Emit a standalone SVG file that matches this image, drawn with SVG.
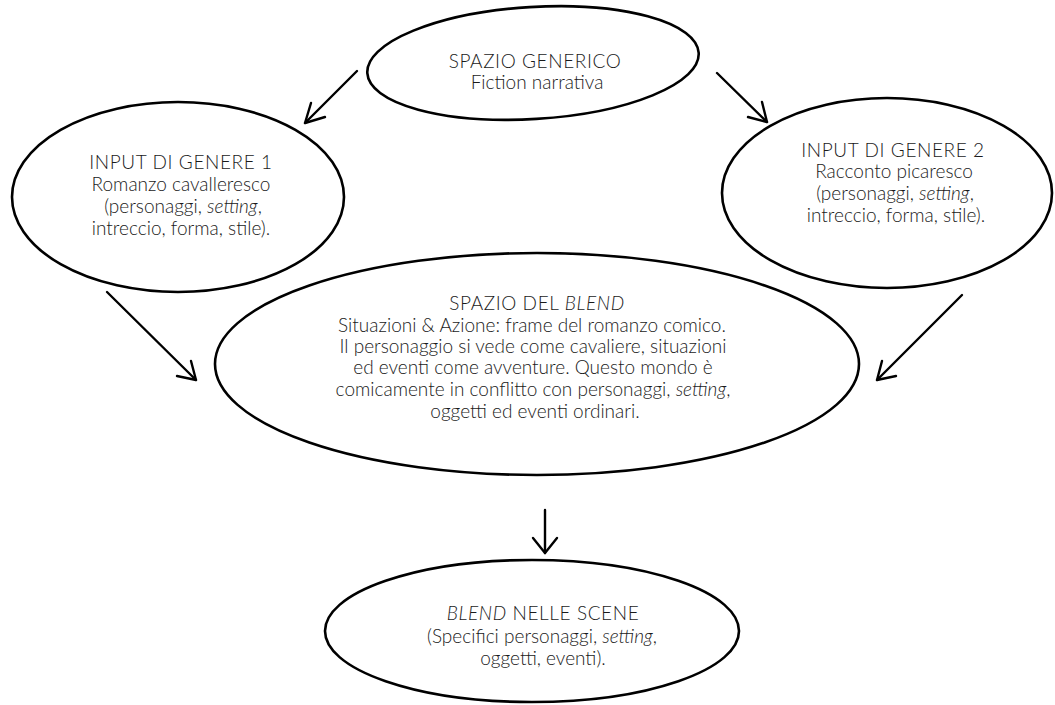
<svg xmlns="http://www.w3.org/2000/svg" width="1055" height="705" viewBox="0 0 1055 705">
<defs>
<style>
.n{fill:#fff;stroke:#000;stroke-width:2.6}
.t{font-family:Lato,"Open Sans","Liberation Sans",sans-serif;font-weight:300;font-size:19px;fill:#1a1a1a;text-anchor:middle}
.u{letter-spacing:0.6px}
.c line,.c polyline{stroke:#000;stroke-width:2.4;fill:none;stroke-linecap:round;stroke-linejoin:round}
</style>
</defs>
<rect width="1055" height="705" fill="#fff"/>
<g id="generico">
<ellipse class="n" cx="533" cy="63" rx="166" ry="56" transform="rotate(-3.5 533 63)"/>
<text class="t u" x="535" y="68">SPAZIO GENERICO</text>
<text class="t" x="537" y="89">Fiction narrativa</text>
</g>
<g id="input1">
<ellipse class="n" cx="178" cy="197" rx="166" ry="95"/>
<text class="t u" x="181" y="169">INPUT DI GENERE 1</text>
<text class="t" x="181" y="191">Romanzo cavalleresco</text>
<text class="t" x="183" y="213">(personaggi, <tspan font-style="italic">setting</tspan>,</text>
<text class="t" x="181" y="235">intreccio, forma, stile).</text>
</g>
<g id="input2">
<ellipse class="n" cx="887" cy="193" rx="165" ry="95"/>
<text class="t u" x="893" y="157">INPUT DI GENERE 2</text>
<text class="t" x="894" y="178">Racconto picaresco</text>
<text class="t" x="895" y="200">(personaggi, <tspan font-style="italic">setting</tspan>,</text>
<text class="t" x="896" y="222">intreccio, forma, stile).</text>
</g>
<g id="blend">
<ellipse class="n" cx="537" cy="364" rx="322" ry="111"/>
<text class="t" x="537" y="310"><tspan class="u">SPAZIO DEL </tspan><tspan class="u" font-style="italic">BLEND</tspan></text>
<text class="t" x="532" y="332">Situazioni &amp; Azione: frame del romanzo comico.</text>
<text class="t" x="533" y="353">Il personaggio si vede come cavaliere, situazioni</text>
<text class="t" x="533" y="374">ed eventi come avventure. Questo mondo è</text>
<text class="t" x="533" y="396">comicamente in conflitto con personaggi, <tspan font-style="italic">setting</tspan>,</text>
<text class="t" x="535" y="418">oggetti ed eventi ordinari.</text>
</g>
<g id="scene">
<ellipse class="n" cx="532" cy="631" rx="207" ry="71"/>
<text class="t" x="543" y="620"><tspan class="u" font-style="italic">BLEND</tspan><tspan class="u"> NELLE SCENE</tspan></text>
<text class="t" x="542" y="643">(Specifici personaggi, <tspan font-style="italic">setting</tspan>,</text>
<text class="t" x="543" y="665">oggetti, eventi).</text>
</g>
<g id="connectors" class="c">
<line x1="357" y1="71" x2="305" y2="123"/>
<polyline points="311,103 305,123 325,117"/>
<line x1="717" y1="73" x2="767" y2="122"/>
<polyline points="748,117 767,122 762,102"/>
<line x1="107" y1="292" x2="196" y2="380"/>
<polyline points="191,361 196,380 177,376"/>
<line x1="962" y1="295" x2="877" y2="380"/>
<polyline points="882,361 877,380 896,376"/>
<line x1="545" y1="510" x2="545" y2="553"/>
<polyline points="533,538 545,553 557,538"/>
</g>
</svg>
